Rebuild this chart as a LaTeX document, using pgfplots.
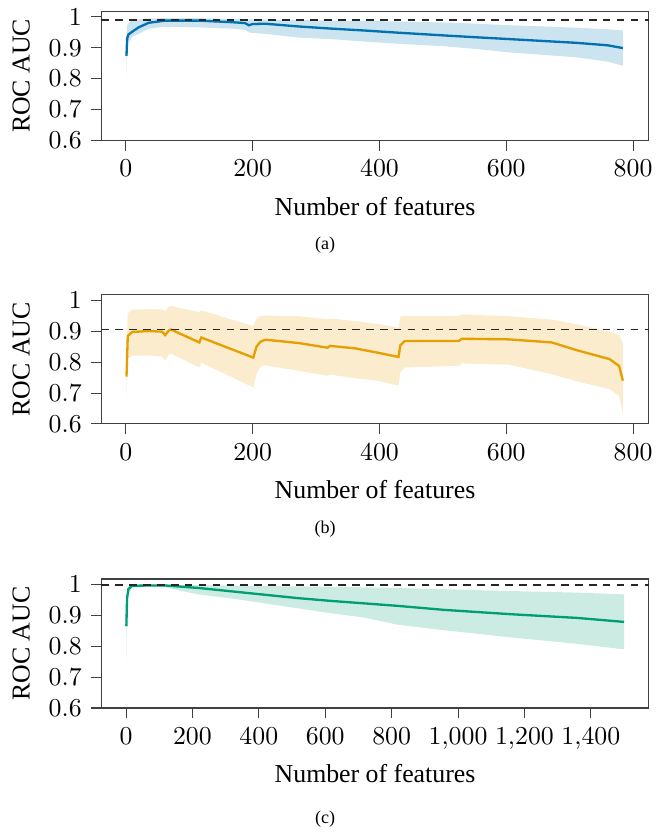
\documentclass[border=0pt]{standalone}
\usepackage{fontspec}
\setmainfont{Liberation Serif}
\usepackage{pgfplots}
\usepackage{pgfplotstable}
\pgfplotsset{compat=1.18}
\usepgfplotslibrary{fillbetween}

\definecolor{cblue}{HTML}{0072B2}
\definecolor{corange}{HTML}{E69F00}
\definecolor{cgreen}{HTML}{009E73}

% f = number of features, mean / lower / upper ROC AUC
\pgfplotstableread{
f mean lo hi
1 0.874 0.800 0.940
2 0.930 0.880 0.972
4 0.943 0.915 0.980
10 0.952 0.935 0.990
20 0.966 0.945 0.992
36 0.981 0.962 0.995
62 0.988 0.968 0.996
115 0.988 0.966 0.996
167 0.983 0.962 0.994
188 0.980 0.958 0.993
194 0.973 0.950 0.991
200 0.977 0.948 0.992
220 0.978 0.945 0.991
273 0.969 0.933 0.990
325 0.962 0.928 0.988
376 0.956 0.920 0.987
429 0.949 0.913 0.985
502 0.940 0.905 0.982
553 0.934 0.896 0.978
606 0.928 0.885 0.973
711 0.916 0.869 0.965
760 0.908 0.855 0.960
784 0.899 0.842 0.956
}\dataA

\pgfplotstableread{
f mean lo hi
1 0.753 0.675 0.830
3 0.885 0.812 0.958
10 0.898 0.821 0.970
36 0.901 0.822 0.972
57 0.899 0.818 0.971
62 0.888 0.805 0.966
68 0.903 0.826 0.980
71 0.906 0.828 0.982
116 0.864 0.783 0.962
119 0.880 0.799 0.968
201 0.815 0.718 0.917
206 0.850 0.760 0.940
212 0.866 0.785 0.950
220 0.873 0.790 0.951
273 0.862 0.772 0.949
318 0.847 0.756 0.939
322 0.853 0.760 0.942
361 0.845 0.748 0.933
397 0.831 0.740 0.924
430 0.817 0.724 0.912
433 0.855 0.768 0.948
440 0.869 0.783 0.950
525 0.869 0.788 0.950
530 0.876 0.796 0.955
604 0.874 0.792 0.949
672 0.864 0.761 0.938
711 0.839 0.738 0.923
763 0.810 0.713 0.899
778 0.788 0.690 0.888
784 0.740 0.632 0.860
}\dataB

\pgfplotstableread{
f mean lo hi
1 0.865 0.742 0.930
3 0.955 0.902 0.982
7 0.985 0.965 0.996
18 0.996 0.990 0.999
68 0.997 0.994 1.000
118 0.997 0.992 1.000
168 0.993 0.979 0.999
218 0.989 0.968 0.998
318 0.978 0.955 0.997
418 0.967 0.939 0.995
518 0.956 0.923 0.994
618 0.947 0.907 0.993
718 0.939 0.893 0.991
818 0.931 0.870 0.989
958 0.918 0.852 0.985
1158 0.904 0.829 0.979
1358 0.892 0.808 0.974
1500 0.879 0.790 0.968
}\dataC

\pgfplotsset{
  rocstyle/.style={
    scale only axis, width=212.3pt, height=50pt,
    anchor=south west,
    ymin=0.6, ymax=1.018,
    ytick={0.6,0.7,0.8,0.9,1},
    tick align=outside, major tick length=4pt,
    xtick pos=left, ytick pos=left,
    axis line style={black!75},
    every tick/.style={black!75},
    tick label style={font=\fontsize{10}{12}\selectfont},
    xlabel={Number of features}, ylabel={ROC AUC},
    label style={font=\fontsize{11}{13}\selectfont},
    every axis x label/.style={at={(axis description cs:0.5,0)}, yshift=-25.5pt, anchor=center},
    every axis y label/.style={at={(axis description cs:0,0.5)}, xshift=-31pt, rotate=90, anchor=center},
  },
  meanline/.style={line width=0.9pt},
  refline/.style={black!85, dash pattern=on 3pt off 2.4pt, line width=0.75pt},
}

\begin{document}
\begin{tikzpicture}

% (a)
\begin{axis}[rocstyle, at={(39.2pt,-54.2pt)},
  xmin=-39, xmax=825, xtick={0,200,400,600,800}]
  \addplot[name path=hiA, draw=none, forget plot] table[x=f, y=hi] {\dataA};
  \addplot[name path=loA, draw=none, forget plot] table[x=f, y=lo] {\dataA};
  \addplot[cblue!20, forget plot] fill between[of=hiA and loA];
  \addplot[cblue, meanline] table[x=f, y=mean] {\dataA};
  \addplot[refline] coordinates {(-39,0.989) (825,0.989)};
\end{axis}

% (b)
\begin{axis}[rocstyle, at={(39.2pt,-164.1pt)},
  xmin=-39, xmax=825, xtick={0,200,400,600,800}]
  \addplot[name path=hiB, draw=none, forget plot] table[x=f, y=hi] {\dataB};
  \addplot[name path=loB, draw=none, forget plot] table[x=f, y=lo] {\dataB};
  \addplot[corange!20, forget plot] fill between[of=hiB and loB];
  \addplot[corange, meanline] table[x=f, y=mean] {\dataB};
  \addplot[refline] coordinates {(-39,0.906) (825,0.906)};
\end{axis}

% (c)
\begin{axis}[rocstyle, at={(39.2pt,-274.2pt)},
  xmin=-75, xmax=1575, xtick={0,200,400,600,800,1000,1200,1400}]
  \addplot[name path=hiC, draw=none, forget plot] table[x=f, y=hi] {\dataC};
  \addplot[name path=loC, draw=none, forget plot] table[x=f, y=lo] {\dataC};
  \addplot[cgreen!20, forget plot] fill between[of=hiC and loC];
  \addplot[cgreen, meanline] table[x=f, y=mean] {\dataC};
  \addplot[refline] coordinates {(-75,0.998) (1575,0.998)};
\end{axis}

\node[font=\fontsize{7}{8}\selectfont] at (126pt,-95pt) {(a)};
\node[font=\fontsize{7}{8}\selectfont] at (126pt,-205pt) {(b)};
\node[font=\fontsize{7}{8}\selectfont] at (126pt,-317.3pt) {(c)};
\path (0,0) rectangle (253.1pt,-321.5pt);
\end{tikzpicture}
\end{document}
